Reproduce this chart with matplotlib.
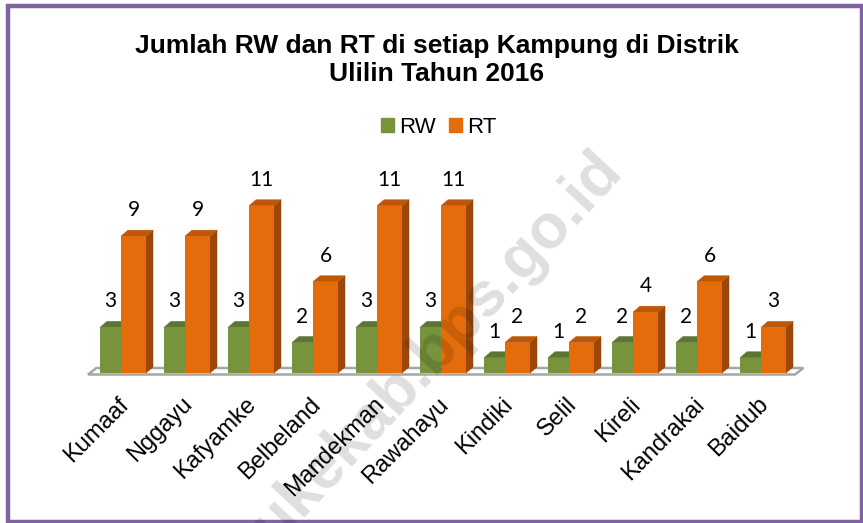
import matplotlib
matplotlib.use('Agg')
import matplotlib.pyplot as plt
from matplotlib.patches import Polygon, Patch, Rectangle

kampung = ['Kumaaf', 'Nggayu', 'Kafyamke', 'Belbeland', 'Mandekman', 'Rawahayu',
           'Kindiki', 'Selil', 'Kireli', 'Kandrakai', 'Baidub']
rw = [3, 3, 3, 2, 3, 3, 1, 1, 2, 2, 1]
rt = [9, 9, 11, 6, 11, 11, 2, 2, 4, 6, 3]

title = 'Jumlah RW dan RT di setiap Kampung di Distrik\nUlilin Tahun 2016'

green, green_top = '#77933C', '#5C7530'
orange, orange_top, orange_side = '#E46C0A', '#C05708', '#9A4707'

W, H = 863, 523
fig = plt.figure(figsize=(W / 100, H / 100), dpi=100)

# pixel geometry of the plot area
step, unit = 64, 15.2
x0_px, base_px = 121, 373
left_px, right_px = 88, 795
ax = fig.add_axes([left_px / W, (H - base_px) / H, (right_px - left_px) / W, 12 * unit / H])
ax.set_xlim((left_px - x0_px) / step, (right_px - x0_px) / step)
ax.set_ylim(0, 12)
ax.axis('off')

ddx, ddy = 7 / step, 6 / unit
w_rw, w_rt = 21 / step, 25 / step

# floor
xl, xr = ax.get_xlim()
yf, yb = -1.5 / unit, 5 / unit
ax.add_patch(Polygon([(xl, yf), (xr, yf), (xr + 1.2 * ddx, yb), (xl + 1.2 * ddx, yb)],
                     closed=True, fc='white', ec='#A6A6A6', lw=1.8, zorder=1, clip_on=False))


def bar3d(x, w, h, front, top, side):
    ax.add_patch(Polygon([(x + w, 0), (x + w + ddx, ddy), (x + w + ddx, h + ddy), (x + w, h)],
                         closed=True, fc=side, ec=side, lw=0.4, zorder=3, clip_on=False))
    ax.add_patch(Polygon([(x, h), (x + ddx, h + ddy), (x + w + ddx, h + ddy), (x + w, h)],
                         closed=True, fc=top, ec=top, lw=0.4, zorder=3, clip_on=False))
    ax.bar(x, h, w, align='edge', color=front, lw=0, zorder=3, clip_on=False)


for i in range(len(kampung)):
    bar3d(i - w_rw, w_rw, rw[i], green, green_top, green_top)
    bar3d(i, w_rt, rt[i], orange, orange_top, orange_side)
    ax.annotate(str(rw[i]), (i - w_rw / 2, rw[i]), xytext=(0, 26), textcoords='offset pixels',
                ha='center', va='center', fontsize=15, family='Lato', zorder=5)
    ax.annotate(str(rt[i]), (i + w_rt / 2, rt[i]), xytext=(0, 26), textcoords='offset pixels',
                ha='center', va='center', fontsize=15, family='Lato', zorder=5)
    ax.annotate(kampung[i], (i, 0), xytext=(4, -28), textcoords='offset pixels',
                rotation=45, ha='right', va='center', rotation_mode='anchor',
                fontsize=17, family='Liberation Sans', zorder=5)

fig.text(437 / W, 1 - 60 / H, title, ha='center', va='center', fontsize=19,
         fontweight='bold', family='Liberation Sans', linespacing=1.2)

handles = [Patch(color=green, label='RW'), Patch(color=orange, label='RT')]
fig.legend(handles=handles, loc='center', bbox_to_anchor=(439 / W, 1 - 127 / H), ncol=2,
           frameon=False, handlelength=0.58, handleheight=0.58, handletextpad=0.22,
           columnspacing=0.6, prop={'family': 'Liberation Sans', 'size': 16})

# watermark
fig.text(612 / W, 1 - 160 / H, 'meraukekab.bps.go.id', rotation=47, ha='right', va='center',
         rotation_mode='anchor', fontsize=45, fontweight='bold', family='Liberation Sans',
         color='black', alpha=0.13, zorder=10)

# purple frame
fig.patches.append(Rectangle((8 / W, 1.5 / H), 854 / W, 516 / H, transform=fig.transFigure,
                             fill=False, ec='#8064A2', lw=3.2))

fig.savefig('out.png', dpi=100)
